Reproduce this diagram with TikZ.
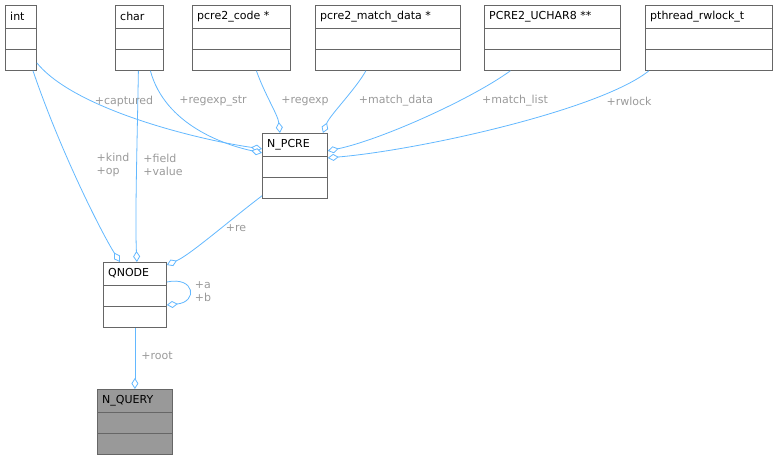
\documentclass[tikz,border=0pt]{standalone}
\usepackage{fontspec}
\setmainfont{DejaVu Sans}
\usetikzlibrary{arrows.meta,calc}
\definecolor{edgecol}{HTML}{63B8FF}
\definecolor{labcol}{HTML}{9A9A9A}
\definecolor{boxline}{HTML}{666666}
\definecolor{boxfill}{HTML}{999999}
\tikzset{
  cls/.style={draw=boxline, line width=0.8pt, inner sep=0pt, minimum height=65pt, anchor=north west},
  title/.style={font=\fontsize{11}{13}\selectfont, text=black, anchor=west, inner sep=0pt},
  lbl/.style={font=\fontsize{11}{13}\selectfont, text=labcol, align=left},
  agg/.style={draw=edgecol, line width=0.8pt, -{Diamond[open,fill=white,length=11pt,width=7pt]}}
}
% class box: name, x, y, width, label, fill
\newcommand{\umlclass}[6]{%
  \node[cls, fill=#6, minimum width=#4pt] (#1) at (#2,#3) {};
  \node[title] at ($(#1.north west)+(5,11.5)$) {#5};
  \draw[boxline, line width=0.8pt] ($(#1.north west)+(0,23)$) -- ($(#1.north east)+(0,23)$);
  \draw[boxline, line width=0.8pt] ($(#1.north west)+(0,44)$) -- ($(#1.north east)+(0,44)$);
}
\begin{document}
\begin{tikzpicture}[x=1pt,y=-1pt]
\useasboundingbox (0,0) rectangle (777,460);
\umlclass{int}{5}{5}{31}{int}{white}
\umlclass{char}{115}{5}{48}{char}{white}
\umlclass{code}{192}{5}{98}{pcre2\_code *}{white}
\umlclass{mdata}{315}{5}{145}{pcre2\_match\_data *}{white}
\umlclass{uchar}{484}{5}{136}{PCRE2\_UCHAR8 **}{white}
\umlclass{rwlock}{645}{5}{127}{pthread\_rwlock\_t}{white}
\umlclass{npcre}{262}{133}{65}{N\_PCRE}{white}
\umlclass{qnode}{103}{262}{63}{QNODE}{white}
\umlclass{nquery}{97}{389}{75}{N\_QUERY}{boxfill}
% edges to N_PCRE
\draw[agg] ($(int.south east)+(0,-8)$) .. controls (75,110) and (200,140) .. ($(npcre.west)+(0,-17)$);
\draw[agg] ($(char.south)+(11,0)$) .. controls (165,125) and (225,145) .. ($(npcre.west)+(0,-13)$);
\draw[agg] ($(code.south)+(15,0)$) .. controls (265,95) and (278,115) .. ($(npcre.north)+(-15,0)$);
\draw[agg] ($(mdata.south)+(-22,0)$) .. controls (355,90) and (330,115) .. ($(npcre.north)+(28,0)$);
\draw[agg] ($(uchar.south)+(-42,0)$) .. controls (470,100) and (380,140) .. ($(npcre.east)+(0,-15)$);
\draw[agg] ($(rwlock.south)+(-60,0)$) .. controls (600,110) and (420,150) .. ($(npcre.east)+(0,-8)$);
% edges to QNODE
\draw[agg] ($(int.south west)+(28,0)$) .. controls (60,150) and (100,230) .. ($(qnode.north)+(-15,0)$);
\draw[agg] ($(char.south)+(-1,0)$) .. controls (137,150) and (135,220) .. ($(qnode.north)+(2,0)$);
\draw[agg] ($(npcre.south west)+(0,-3)$) .. controls (230,220) and (190,255) .. ($(qnode.north east)+(0,3)$);
\draw[agg] ($(qnode.north east)+(0,20)$) .. controls (195,276) and (198,302) .. ($(qnode.north east)+(0,43)$);
\draw[agg] (qnode.south) -- (nquery.north);
% labels
\node[lbl] at (124,101) {+captured};
\node[lbl] at (213,101) {+regexp\_str};
\node[lbl] at (305,101) {+regexp};
\node[lbl] at (396,101) {+match\_data};
\node[lbl] at (515,101) {+match\_list};
\node[lbl] at (629,101) {+rwlock};
\node[lbl] at (113,165) {+kind\\+op};
\node[lbl] at (163,165) {+field\\+value};
\node[lbl] at (236,228) {+re};
\node[lbl] at (203,292) {+a\\+b};
\node[lbl] at (157,356) {+root};
\end{tikzpicture}
\end{document}
